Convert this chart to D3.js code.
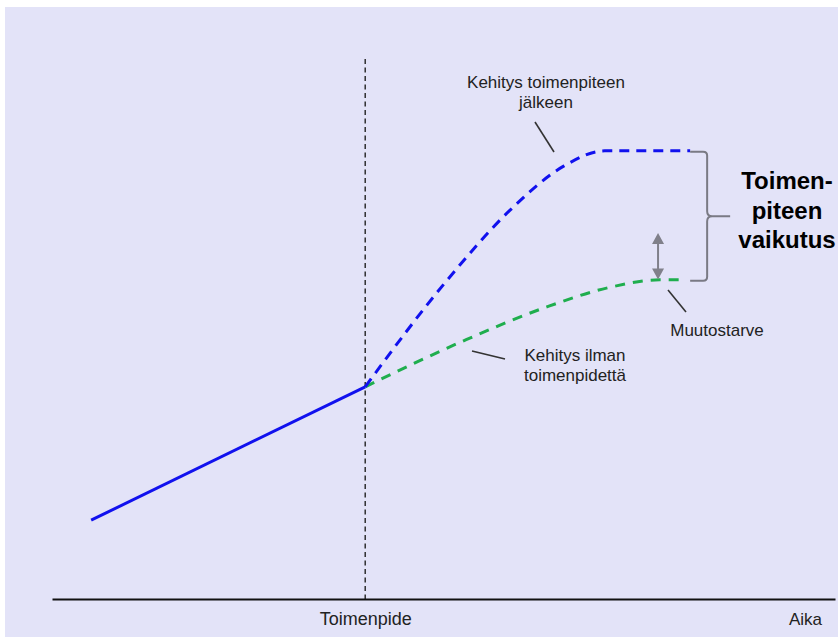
<!DOCTYPE html>
<html>
<head>
<meta charset="utf-8">
<script src="https://cdn.jsdelivr.net/npm/d3@7/dist/d3.min.js"></script>
<style>
  body { margin: 0; background: #fff; }
  svg { display: block; font-family: "Liberation Sans", Arial, sans-serif; }
</style>
</head>
<body>
<svg id="chart" width="838" height="637"></svg>
<script>
// time runs 0..100, value 0..100 (schematic units)
var beforeTimes = [5, 40];
var beforeValues = [14.6, 39.3];

var withTimes = [40, 50.1, 58.5, 65.4, 70.6, 81.5];
var withValues = [39.3, 58.4, 72.0, 80.2, 83, 83];

var withoutTimes = [40, 52.7, 63.2, 71.5, 77.6, 80.2];
var withoutValues = [39.3, 47.9, 54.1, 57.8, 59.1, 59.1];

var interventionTime = 40;
var tickLabels = ["Toimenpide"];
var axisTitle = "Aika";

var svg = d3.select('#chart');
var W = 838, H = 637;

svg.append('rect')
	.attr('x', 5).attr('y', 7)
	.attr('width', W - 5).attr('height', H - 7)
	.attr('fill', '#e3e3f8');

var x = d3.scaleLinear().domain([0, 100]).range([52, 835]);
var y = d3.scaleLinear().domain([0, 100]).range([599, 59]);

function pts(ts, vs) {
	return ts.map(function(t, i) { return [t, vs[i]]; });
}

var line = d3.line()
	.x(function(d) { return x(d[0]); })
	.y(function(d) { return y(d[1]); })
	.curve(d3.curveMonotoneX);

// vertical marker at the intervention
svg.append('line')
	.attr('x1', x(interventionTime)).attr('x2', x(interventionTime))
	.attr('y1', y(100)).attr('y2', y(0))
	.attr('stroke', '#222')
	.attr('stroke-width', 1.4)
	.attr('stroke-dasharray', '5,3.5');

// x axis
var axis = svg.append('g')
	.attr('transform', 'translate(0,' + y(0) + ')')
	.call(d3.axisBottom(x)
		.tickValues([interventionTime])
		.tickSize(0)
		.tickSizeOuter(0)
		.tickPadding(13)
		.tickFormat(function(d, i) { return tickLabels[i]; }));
axis.select('.domain').attr('stroke', '#111').attr('stroke-width', 2);
axis.selectAll('.tick text')
	.attr('font-family', '"Liberation Sans", Arial, sans-serif')
	.attr('font-size', 18).attr('fill', '#222');

svg.append('text')
	.attr('x', x(100) - 13).attr('y', y(0) + 26)
	.attr('text-anchor', 'end')
	.attr('font-size', 17).attr('fill', '#222')
	.text(axisTitle);

// trend lines
svg.append('path')
	.attr('d', line(pts(withoutTimes, withoutValues)))
	.attr('fill', 'none')
	.attr('stroke', '#1fae4e')
	.attr('stroke-width', 3)
	.attr('stroke-dasharray', '10,8');

svg.append('path')
	.attr('d', line(pts(withTimes, withValues)))
	.attr('fill', 'none')
	.attr('stroke', '#1111ee')
	.attr('stroke-width', 3)
	.attr('stroke-dasharray', '10,7');

svg.append('path')
	.attr('d', line(pts(beforeTimes, beforeValues)))
	.attr('fill', 'none')
	.attr('stroke', '#1111ee')
	.attr('stroke-width', 3);

// brace between the two end values
var bTop = y(withValues[withValues.length - 1]) + 1;
var bBot = y(withoutValues[withoutValues.length - 1]) + 1;
var bx0 = x(81.5), bx1 = bx0 + 17, bMid = (bTop + bBot) / 2, bTip = bx1 + 23;
svg.append('path')
	.attr('d', 'M' + bx0 + ',' + bTop + ' L' + (bx1 - 4) + ',' + bTop +
		' Q' + bx1 + ',' + bTop + ' ' + bx1 + ',' + (bTop + 4) +
		' L' + bx1 + ',' + (bMid - 5) +
		' Q' + bx1 + ',' + bMid + ' ' + (bx1 + 5) + ',' + bMid +
		' L' + bTip + ',' + bMid +
		' M' + (bx1 + 5) + ',' + bMid +
		' Q' + bx1 + ',' + bMid + ' ' + bx1 + ',' + (bMid + 5) +
		' L' + bx1 + ',' + (bBot - 4) +
		' Q' + bx1 + ',' + bBot + ' ' + (bx1 - 4) + ',' + bBot +
		' L' + bx0 + ',' + bBot)
	.attr('fill', 'none')
	.attr('stroke', '#7a7a84')
	.attr('stroke-width', 2);

var bigLines = ["Toimen-", "piteen", "vaikutus"];
svg.append('text')
	.attr('text-anchor', 'middle')
	.attr('font-size', 24).attr('font-weight', 'bold').attr('fill', '#000')
	.selectAll('tspan').data(bigLines).enter().append('tspan')
	.attr('x', 787)
	.attr('y', function(d, i) { return 189 + i * 29.5; })
	.text(function(d) { return d; });

// double arrow (need for change)
var ax = x(77.4), aTop = y(67.8), aBot = y(59) - 1;
svg.append('line')
	.attr('x1', ax).attr('x2', ax)
	.attr('y1', aTop + 8).attr('y2', aBot - 8)
	.attr('stroke', '#80808a').attr('stroke-width', 2);
svg.append('path')
	.attr('d', 'M' + ax + ',' + aTop + ' L' + (ax + 6) + ',' + (aTop + 11) + ' L' + (ax - 6) + ',' + (aTop + 11) + 'Z' +
		'M' + ax + ',' + aBot + ' L' + (ax + 6) + ',' + (aBot - 11) + ' L' + (ax - 6) + ',' + (aBot - 11) + 'Z')
	.attr('fill', '#80808a');

// annotations with leader lines
var notes = [
	{ lines: ["Kehitys toimenpiteen", "jälkeen"], tx: 546, ty: 88, lead: [[535, 122], [554, 152]] },
	{ lines: ["Muutostarve"], tx: 717, ty: 336, lead: [[668, 290], [686, 312]] },
	{ lines: ["Kehitys ilman", "toimenpidettä"], tx: 575, ty: 361, lead: [[472, 351], [505, 359]] }
];

notes.forEach(function(n) {
	svg.append('line')
		.attr('x1', n.lead[0][0]).attr('y1', n.lead[0][1])
		.attr('x2', n.lead[1][0]).attr('y2', n.lead[1][1])
		.attr('stroke', '#333').attr('stroke-width', 1.6);
	svg.append('text')
		.attr('text-anchor', 'middle')
		.attr('font-size', 17).attr('fill', '#222')
		.selectAll('tspan').data(n.lines).enter().append('tspan')
		.attr('x', n.tx)
		.attr('y', function(d, i) { return n.ty + i * 19.5; })
		.text(function(d) { return d; });
});
</script>
</body>
</html>
